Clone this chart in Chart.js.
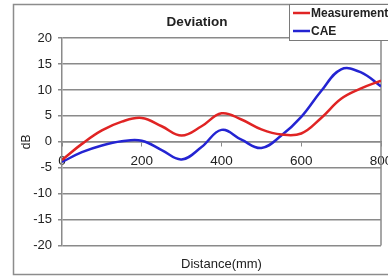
<!DOCTYPE html>
<html>
<head>
<meta charset="utf-8">
<script src="https://cdn.jsdelivr.net/npm/chart.js@4"></script>
<style>
  html,body{margin:0;padding:0;background:#fff;}
  #wrap{position:relative;width:388px;height:277px;}
</style>
</head>
<body>
<div id="wrap"><canvas id="chart" width="388" height="277"></canvas></div>
<script>
// data
var distances   = [0, 50, 100, 150, 200, 250, 300, 350, 400, 450, 500, 550, 600, 650, 700, 750, 800];
var measurement = [-3.5, -0.4, 2.2, 3.9, 4.6, 3.0, 1.2, 3.0, 5.5, 4.3, 2.4, 1.4, 1.6, 4.6, 8.3, 10.3, 11.8];
var cae         = [-3.9, -2.0, -0.7, 0.1, 0.2, -1.6, -3.4, -1.0, 2.3, 0.4, -1.2, 1.2, 4.8, 9.8, 14.0, 13.4, 10.7];
var yTicks      = [-20, -15, -10, -5, 0, 5, 10, 15, 20];
var xTicks      = [0, 200, 400, 600, 800];
var seriesNames = ['Measurement', 'CAE'];
var seriesColors = ['#e02424', '#2424d2'];

function pts(arr){
  return distances.map(function(d, i){ return {x: d, y: arr[i]}; });
}

var font = 'Arial, "Liberation Sans", sans-serif';

// frame + legend box drawn on the canvas
var framePlugin = {
  id: 'frame',
  beforeDraw: function(chart){
    var c = chart.ctx;
    c.save();
    c.strokeStyle = '#8c8c8c';
    c.lineWidth = 1.5;
    c.strokeRect(13.5, 4.5, 400, 270);
    c.restore();
  },
  afterDraw: function(chart){
    var c = chart.ctx;
    c.save();
    c.fillStyle = '#fff';
    c.fillRect(289, 4, 110, 36);
    c.strokeStyle = '#7a7a7a';
    c.lineWidth = 1;
    c.strokeRect(289.5, 4.5, 110, 36);
    c.font = 'bold 12px ' + font;
    c.textBaseline = 'middle';
    for (var i = 0; i < seriesNames.length; i++){
      var y = 13 + i * 18;
      c.strokeStyle = seriesColors[i];
      c.lineWidth = 2.5;
      c.beginPath();
      c.moveTo(293, y);
      c.lineTo(310, y);
      c.stroke();
      c.fillStyle = '#222';
      c.fillText(seriesNames[i], 311, y + 1);
    }
    c.restore();
  }
};

new Chart(document.getElementById('chart').getContext('2d'), {
  type: 'line',
  data: {
    datasets: [
      {label: seriesNames[0], data: pts(measurement), borderColor: seriesColors[0], borderWidth: 2.5, pointRadius: 0, tension: 0.4, fill: false},
      {label: seriesNames[1], data: pts(cae), borderColor: seriesColors[1], borderWidth: 2.5, pointRadius: 0, tension: 0.4, fill: false}
    ]
  },
  options: {
    responsive: false,
    animation: false,
    layout: {padding: {left: 13, right: 7, top: 3, bottom: 1}},
    plugins: {
      legend: {display: false},
      tooltip: {enabled: false},
      title: {
        display: true, text: 'Deviation', color: '#222',
        font: {family: font, size: 13.5, weight: 'bold'},
        padding: {top: 11, bottom: 8}
      },
      subtitle: {
        display: true, text: 'Distance(mm)', position: 'bottom', color: '#222',
        fullSize: false,
        font: {family: font, size: 13},
        padding: {top: 11, bottom: 4}
      }
    },
    scales: {
      x: {
        type: 'linear',
        position: {y: 0},
        min: 0, max: 800,
        afterBuildTicks: function(s){ s.ticks = xTicks.map(function(v){ return {value: v}; }); },
        afterFit: function(s){ s.paddingLeft = 0; s.paddingRight = 0; },
        ticks: {color: '#222', font: {family: font, size: 13.5}, maxRotation: 0, padding: 7},
        grid: {drawOnChartArea: false, drawTicks: true, tickLength: 4, color: '#8a8a8a'},
        border: {color: '#8a8a8a', width: 1.5}
      },
      y: {
        min: -20, max: 20,
        afterBuildTicks: function(s){ s.ticks = yTicks.map(function(v){ return {value: v}; }); },
        afterFit: function(s){ s.width = 49; },
        ticks: {color: '#222', font: {family: font, size: 13}, padding: 6},
        grid: {color: '#8a8a8a', lineWidth: 1.5, drawTicks: true, tickLength: 4},
        border: {color: '#8a8a8a', width: 1.5},
        title: {display: true, text: 'dB', color: '#222', font: {family: font, size: 12}, padding: {top: 6, bottom: 0}}
      }
    }
  },
  plugins: [framePlugin, {
    id: 'rightEdge',
    beforeDatasetsDraw: function(chart){
      var a = chart.chartArea, c = chart.ctx;
      c.save();
      c.strokeStyle = '#8a8a8a';
      c.lineWidth = 1.5;
      c.beginPath();
      c.moveTo(a.right, a.top);
      c.lineTo(a.right, a.bottom);
      c.stroke();
      c.restore();
    }
  }]
});
</script>
</body>
</html>
